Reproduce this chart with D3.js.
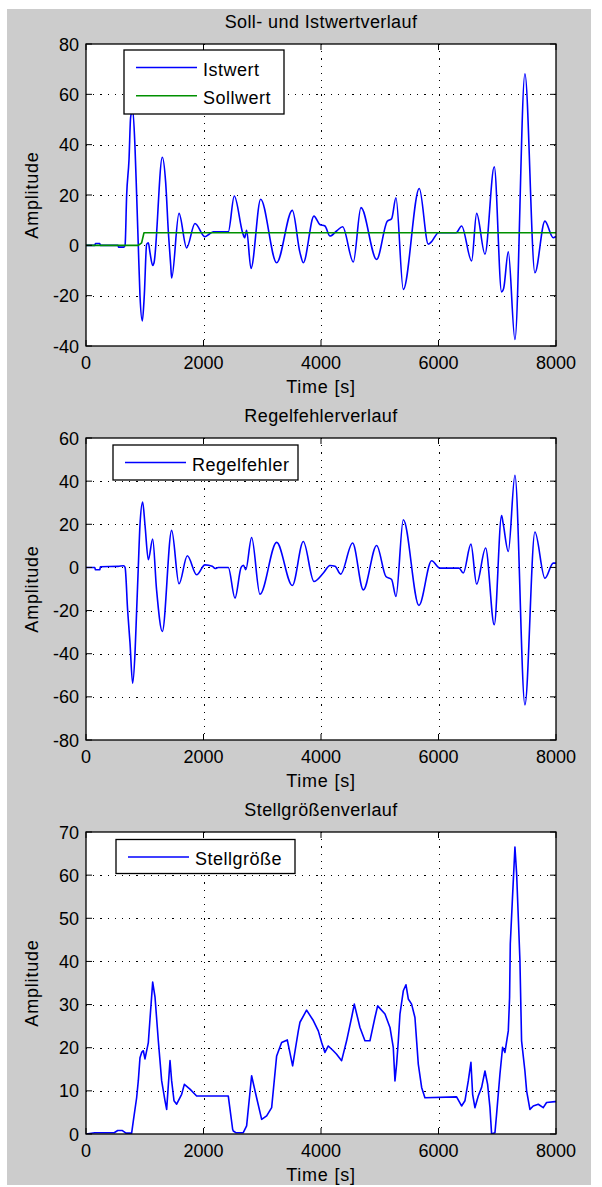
<!DOCTYPE html>
<html><head><meta charset="utf-8">
<script src="https://cdn.jsdelivr.net/npm/d3@7"></script>
<style>
body{margin:0;background:#fff}
text{font-family:"Liberation Sans",Arial,sans-serif;font-size:18px;fill:#000}
</style>
</head><body><svg id="c" width="602" height="1187"></svg>
<script>
// ---------- data ----------
const timeTicks = [0, 2000, 4000, 6000, 8000];
const istTicks = [-40, -20, 0, 20, 40, 60, 80];
const errTicks = [-80, -60, -40, -20, 0, 20, 40, 60];
const stellTicks = [0, 10, 20, 30, 40, 50, 60, 70];

const istTime = [0,150,160,235,245,545,555,645,665,692,732,760,795,834,862,890,919,959,993,1032,1061,1090,1135,1157,1299,1356,1401,1441,1458,1583,1713,1855,2025,2100,2167,2422,2524,2666,2700,2734,2808,2973,3245,3512,3642,3699,3880,3980,4067,4153,4266,4368,4550,4680,4947,5128,5202,5276,5401,5673,5826,5883,6000,6300,6393,6564,6649,6791,6949,7074,7110,7188,7301,7471,7641,7811,7953,8000];
const istValue = [0,0,0.7,0.7,0,0,-0.7,-0.7,0,20,34,51,54,39,20,0,-20,-30,-19.5,0.4,1,-3,-8,-7,35,25,5.7,-7.6,-13,12.7,-1,8.7,3.4,4.5,5.4,5.4,19.6,5,3,6,-9.2,18.3,-6.9,13.9,-2.9,-6.9,11.6,8.3,7.7,3.7,5.7,7.4,-6.6,15,-5.6,9.6,10.6,18.9,-17.5,22.6,0.5,1.5,5,5,7.7,-6.2,12.7,-3.5,31.2,-18.5,-17,-2.6,-37.4,68.2,-10.9,9.6,3,3.5];

const sollTime = [0, 890, 947, 987, 8000];
const sollValue = [0, 0, 1, 5, 5];

const errTime = [0,150,160,235,245,545,640,665,709,749,794,834,862,890,919,964,1004,1061,1135,1200,1299,1458,1583,1725,1883,2025,2150,2200,2250,2422,2536,2640,2680,2720,2819,2961,3245,3512,3699,3880,4040,4153,4240,4334,4538,4720,4947,5105,5202,5276,5401,5667,5883,6025,6350,6422,6552,6649,6802,6949,7074,7100,7188,7301,7471,7641,7811,7953,8000];
const errValue = [0,0,-1.1,-1.1,0.3,0.5,0.8,0,-20,-35,-53.7,-39.8,-20,0,19.8,30.3,19.8,3.6,13.2,-10,-29.7,17.2,-7.6,5.4,-3.4,1.2,0.5,-0.5,0,0,-14.2,0,1,-1,13.9,-12.4,11.6,-8.4,12,-6.5,-2.6,0.9,0.5,-3.1,11.3,-10.4,10.2,-4.2,-5.6,-13.5,22.1,-17.6,3.1,-0.3,-0.3,-2.6,10.8,-7.7,9,-26.6,24.1,20.5,7.4,42.7,-63.7,16.4,-5,2,2];

const stellTime = [0,150,480,540,620,680,777,805,862,890,919,950,976,1004,1061,1089,1135,1175,1231,1288,1345,1373,1430,1458,1498,1543,1628,1674,1770,1883,2422,2496,2507,2550,2677,2734,2819,2904,2990,3075,3160,3245,3330,3426,3517,3614,3642,3755,3869,3954,4011,4067,4124,4209,4266,4351,4436,4521,4567,4663,4748,4833,4918,4964,5089,5174,5230,5259,5287,5316,5344,5401,5446,5486,5542,5599,5656,5713,5769,6308,6393,6450,6507,6552,6581,6620,6677,6734,6791,6836,6876,6904,6961,6989,7046,7091,7131,7188,7210,7222,7256,7301,7330,7358,7386,7414,7471,7500,7556,7613,7698,7783,7840,7982,8000];
const stellValue = [0,0.3,0.3,0.8,0.8,0.2,0.2,3,8.4,12.3,17.7,19,19.3,17.4,21.2,26.6,35.2,31.7,21.6,12.3,7.7,5.7,17,12.3,7.7,6.9,9.2,11.5,10.4,8.8,8.8,1.1,0.7,0.3,0.3,1.9,13.5,8.4,3.4,4.2,6.1,18.1,21.2,21.8,15.8,23.9,25.9,28.7,26.3,23.9,21.2,18.9,20.4,19.3,18.5,17,21.6,27,30.1,24.7,21.6,21.6,27,29.7,27.8,24.7,20.1,12.3,16.2,21.6,27.8,33.2,34.6,31.3,30.1,27,16.2,10.8,8.4,8.6,6.5,7.7,12.3,16.6,9.2,6.1,8.8,10.8,14.6,11.5,6.1,0,0.3,4.6,13.9,20.1,18.9,23.9,31.7,44.1,53.8,66.5,60.3,50.3,40.2,21.6,14.6,10,5.7,6.5,6.9,6.1,7.3,7.5,7.5];

// ---------- drawing ----------
const svg = d3.select("#c");
svg.append("rect").attr("x", 7).attr("y", 9).attr("width", 584).attr("height", 1176).attr("fill", "#cccccc");

const L = 86, R = 556, AH = 302;
const x = d3.scaleLinear().domain([0, 8000]).range([L, R]);

const panels = [
  {top: 44, yDomain: [-40, 80], yTicks: istTicks, title: "Soll- und Istwertverlauf",
   series: [
     {time: istTime, values: istValue, color: "#0000ff", name: "Istwert", curve: d3.curveMonotoneX},
     {time: sollTime, values: sollValue, color: "#009000", name: "Sollwert", curve: d3.curveLinear}
   ],
   legend: {dx: 38, dy: 6, w: 160, h: 64}},
  {top: 438, yDomain: [-80, 60], yTicks: errTicks, title: "Regelfehlerverlauf",
   series: [{time: errTime, values: errValue, color: "#0000ff", name: "Regelfehler", curve: d3.curveMonotoneX}],
   legend: {dx: 27, dy: 7, w: 185, h: 35}},
  {top: 832, yDomain: [0, 70], yTicks: stellTicks, title: "Stellgröße" + "nverlauf",
   series: [{time: stellTime, values: stellValue, color: "#0000ff", name: "Stellgröße", curve: d3.curveLinear}],
   legend: {dx: 30, dy: 7.5, w: 179, h: 34}}
];

panels.forEach((p, i) => {
  const top = p.top, bottom = top + AH;
  const y = d3.scaleLinear().domain(p.yDomain).range([bottom, top]);
  const g = svg.append("g");
  g.append("rect").attr("x", L).attr("y", top).attr("width", R - L).attr("height", AH).attr("fill", "#fff");

  // grid
  const gridStyle = sel => sel.attr("stroke", "#000").attr("stroke-width", 1).attr("stroke-dasharray", "1.2,6").attr("shape-rendering", "crispEdges");
  p.yTicks.filter(v => v !== p.yDomain[0] && v !== p.yDomain[1]).forEach(v => {
    g.append("line").attr("x1", L).attr("x2", R).attr("y1", Math.round(y(v)) + 0.5).attr("y2", Math.round(y(v)) + 0.5).call(gridStyle);
  });
  timeTicks.filter(v => v !== 0 && v !== 8000).forEach(v => {
    g.append("line").attr("y1", top).attr("y2", bottom).attr("x1", Math.round(x(v)) + 0.5).attr("x2", Math.round(x(v)) + 0.5).call(gridStyle);
  });

  // clip
  const cid = "clip" + i;
  svg.append("clipPath").attr("id", cid).append("rect").attr("x", L).attr("y", top).attr("width", R - L).attr("height", AH);

  // series
  p.series.forEach(s => {
    const pts = s.time.map((t, k) => [t, s.values[k]]);
    const line = d3.line().x(d => x(d[0])).y(d => y(d[1])).curve(s.curve);
    g.append("path").attr("d", line(pts)).attr("fill", "none").attr("stroke", s.color)
      .attr("stroke-width", 1.6).attr("stroke-linejoin", "round").attr("clip-path", `url(#${cid})`);
  });

  // ticks (inside, all sides)
  const tk = 6;
  p.yTicks.forEach(v => {
    const yy = y(v);
    g.append("line").attr("x1", L).attr("x2", L + tk).attr("y1", yy).attr("y2", yy).attr("stroke", "#000");
    g.append("line").attr("x1", R - tk).attr("x2", R).attr("y1", yy).attr("y2", yy).attr("stroke", "#000");
    g.append("text").attr("x", 79).attr("y", yy + 6.5).attr("text-anchor", "end").text(v);
  });
  timeTicks.forEach(v => {
    const xx = x(v);
    g.append("line").attr("x1", xx).attr("x2", xx).attr("y1", bottom).attr("y2", bottom - tk).attr("stroke", "#000");
    g.append("line").attr("x1", xx).attr("x2", xx).attr("y1", top).attr("y2", top + tk).attr("stroke", "#000");
    g.append("text").attr("x", xx).attr("y", bottom + 23).attr("text-anchor", "middle").text(v);
  });

  // frame
  g.append("rect").attr("x", L).attr("y", top).attr("width", R - L).attr("height", AH)
    .attr("fill", "none").attr("stroke", "#000").attr("stroke-width", 1.3);

  // labels
  g.append("text").attr("x", 321).attr("y", top - 16).attr("text-anchor", "middle").attr("letter-spacing", 0.4).text(p.title);
  g.append("text").attr("x", 321).attr("y", bottom + 47).attr("text-anchor", "middle").attr("letter-spacing", 0.8).text("Time [s]");
  g.append("text").attr("transform", `translate(37.5,${(top + bottom) / 2}) rotate(-90)`).attr("text-anchor", "middle").attr("letter-spacing", 0.8).text("Amplitude");

  // legend
  const lg = p.legend, bx = L + lg.dx, by = top + lg.dy;
  g.append("rect").attr("x", bx).attr("y", by).attr("width", lg.w).attr("height", lg.h)
    .attr("fill", "#fff").attr("stroke", "#000").attr("stroke-width", 1.3);
  p.series.forEach((s, k) => {
    const cy = by + 17.5 + k * 28.3;
    g.append("line").attr("x1", bx + 12).attr("x2", bx + 73).attr("y1", cy).attr("y2", cy).attr("stroke", s.color).attr("stroke-width", 1.6);
    g.append("text").attr("x", bx + 79).attr("y", cy + 8).attr("letter-spacing", 0.5).text(s.name);
  });
});
</script>
</body></html>
